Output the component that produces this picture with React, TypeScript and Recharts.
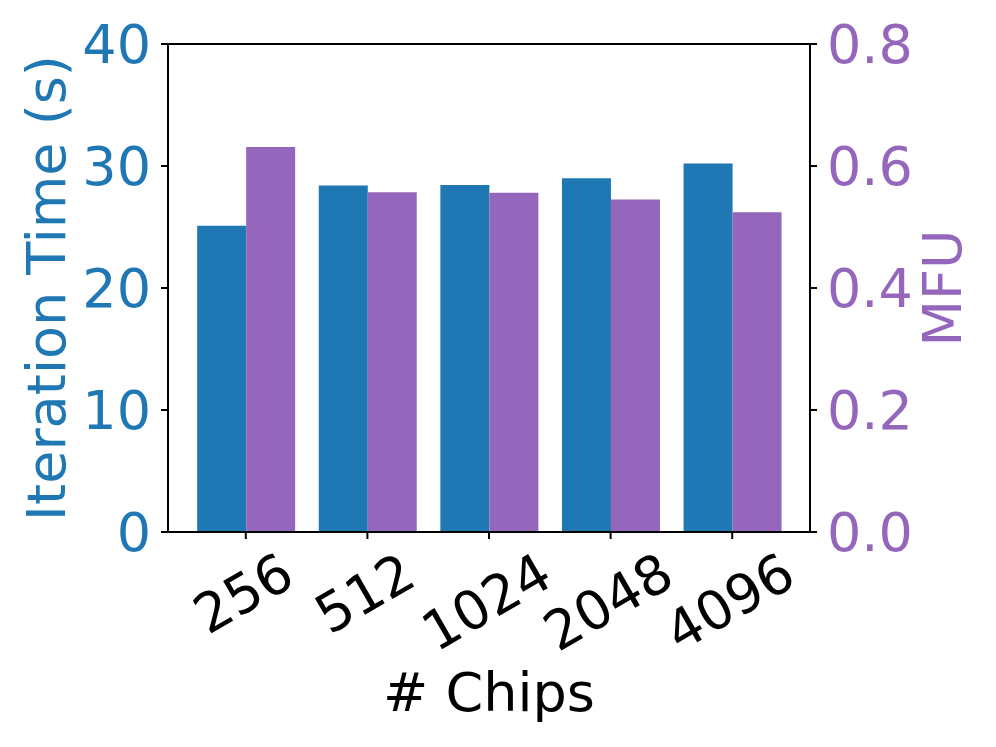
import { BarChart, Bar, XAxis, YAxis, ReferenceLine, Label } from 'recharts';

const chips = ['256', '512', '1024', '2048', '4096'];
const iterTime = [25.1, 28.4, 28.45, 29.0, 30.2];
const mfu = [0.631, 0.557, 0.556, 0.545, 0.524];
const leftTicks = [0, 10, 20, 30, 40];
const rightTicks = [0, 0.2, 0.4, 0.6, 0.8];

const BLUE = '#1f77b4';
const PURPLE = '#9467bd';
const FONT = '"DejaVu Sans", sans-serif';
const FS = 54;

const data = chips.map((c, i) => ({ chips: c, time: iterTime[i], mfu: mfu[i] }));

const ChipTick = (props: any) => {
  const { x, y, payload } = props;
  const label = String(payload.value);
  // rotated 30deg, box centred under the tick and hanging from it
  const w = label.length * 0.636 * FS - 0.1 * FS;
  const h = 0.729 * FS;
  const cx = x - 3;
  const cy = y + (w * 0.5 + h * 0.866) / 2;
  return (
    <text
      x={cx}
      y={cy}
      dy={0.3645 * FS}
      textAnchor="middle"
      fontSize={FS}
      fontFamily={FONT}
      fill="#000"
      transform={`rotate(-30, ${cx}, ${cy})`}
    >
      {label}
    </text>
  );
};

const VLabel = (text: string, color: string, dx: number) => (props: any) => {
  const vb = props.viewBox;
  const x = vb.x + dx;
  const y = vb.y + vb.height / 2;
  return (
    <text
      x={x}
      y={y}
      textAnchor="middle"
      fontSize={FS}
      fontFamily={FONT}
      fill={color}
      transform={`rotate(-90, ${x}, ${y})`}
    >
      {text}
    </text>
  );
};

const XLabel = (props: any) => {
  const vb = props.viewBox;
  return (
    <text
      x={vb.x + vb.width / 2}
      y={vb.y + 179}
      textAnchor="middle"
      fontSize={FS}
      fontFamily={FONT}
      fill="#000"
    >
      # Chips
    </text>
  );
};

export default function App() {
  return (
    <div style={{ position: 'absolute', left: 0, top: 0, background: '#fff' }}>
      <BarChart
        width={996}
        height={747}
        data={data}
        margin={{ top: 44, right: 0, bottom: 0, left: 0 }}
        barCategoryGap="10%"
        barGap={0}
      >
        <XAxis
          dataKey="chips"
          height={215}
          padding={{ left: 17, right: 17 }}
          tickSize={7}
          tickMargin={12}
          stroke="#000"
          strokeWidth={2}
          tick={<ChipTick />}
          interval={0}
        >
          <Label content={<XLabel />} />
        </XAxis>
        <YAxis
          yAxisId="left"
          orientation="left"
          width={168}
          domain={[0, 40]}
          ticks={leftTicks}
          tickSize={7}
          tickMargin={10}
          stroke="#000"
          strokeWidth={2}
          tick={{ fill: BLUE, fontSize: FS, fontFamily: FONT }}
        >
          <Label content={VLabel('Iteration Time (s)', BLUE, 65)} />
        </YAxis>
        <YAxis
          yAxisId="right"
          orientation="right"
          width={186}
          domain={[0, 0.8]}
          ticks={rightTicks}
          tickFormatter={(v: number) => v.toFixed(1)}
          tickSize={7}
          tickMargin={10}
          stroke="#000"
          strokeWidth={2}
          tick={{ fill: PURPLE, fontSize: FS, fontFamily: FONT }}
        >
          <Label content={VLabel('MFU', PURPLE, 151)} />
        </YAxis>
        <ReferenceLine yAxisId="left" y={40} stroke="#000" strokeWidth={2} />
        <Bar yAxisId="left" dataKey="time" fill={BLUE} isAnimationActive={false} />
        <Bar yAxisId="right" dataKey="mfu" fill={PURPLE} isAnimationActive={false} />
      </BarChart>
    </div>
  );
}
